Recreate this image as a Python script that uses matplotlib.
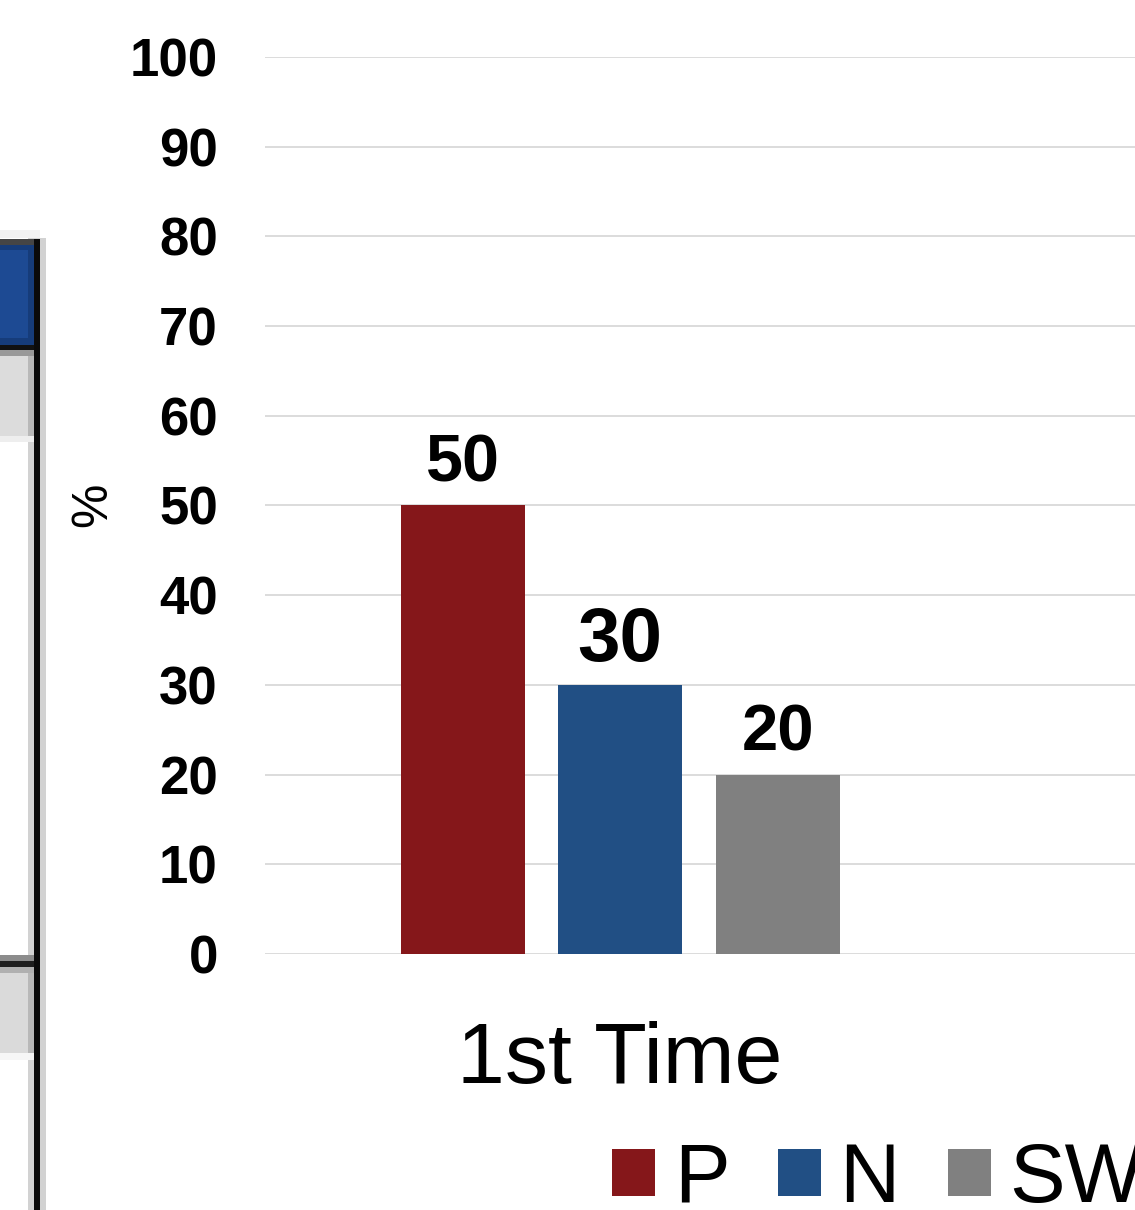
import matplotlib
matplotlib.use("Agg")
import matplotlib.pyplot as plt
from matplotlib.patches import Rectangle
import numpy as np

plt.rcParams['font.family'] = ['Liberation Sans', 'DejaVu Sans']

# data
categories = ["1st Time"]
series = ["P", "N", "SW"]
values = [[50], [30], [20]]
colors = ["#85171a", "#214f84", "#808080"]
yticks = [0, 10, 20, 30, 40, 50, 60, 70, 80, 90, 100]
label_sizes = [48, 55, 47]

W, H = 1135, 1210
fig = plt.figure(figsize=(W / 100, H / 100), dpi=100)

def px(x0, y0, x1, y1):
    # pixel box (top-left origin) -> figure fraction rect
    return (x0 / W, 1 - y1 / H), (x1 - x0) / W, (y1 - y0) / H

def box(x0, y0, x1, y1, c):
    xy, w, h = px(x0, y0, x1, y1)
    fig.add_artist(Rectangle(xy, w, h, transform=fig.transFigure,
                             facecolor=c, edgecolor="none", zorder=0))

# piece of the neighbouring table at the left edge
box(0, 230, 40, 238, "#f2f2f2")
box(28, 238, 46, H, "#d2d2d2")
box(0, 239, 34, 245, "#454545")
box(0, 245, 34, 345, "#163c7a")
box(0, 250, 28, 338, "#1d4a93")
box(0, 345, 34, 350, "#111111")
box(0, 350, 34, 356, "#999999")
box(0, 356, 28, 436, "#dcdcdc")
box(28, 356, 34, 436, "#b8b8b8")
box(0, 436, 34, 442, "#eeeeee")
box(0, 955, 34, 961, "#8c8c8c")
box(0, 961, 34, 967, "#1e1e1e")
box(0, 967, 34, 973, "#b0b0b0")
box(0, 973, 28, 1053, "#dadada")
box(28, 973, 34, 1053, "#b8b8b8")
box(0, 1053, 34, 1060, "#f6f6f6")
box(34, 239, 40, H, "#0a0a0a")

# chart
ax = fig.add_axes([265 / W, 1 - 954 / H, 1 - 265 / W, (954 - 57) / H])
x = np.arange(len(categories))
bw = 0.1746
step = 0.2218
bars = []
for i, (name, vals, c) in enumerate(zip(series, values, colors)):
    pos = x + (i - 1) * step
    b = ax.bar(pos, vals, bw, color=c, label=name, zorder=2)
    bars.append(b)
    for xp, v in zip(pos, vals):
        ax.annotate("%d" % v, (xp, v), xytext=(0, 17), textcoords="offset points",
                    ha="center", va="baseline", fontsize=label_sizes[i],
                    fontweight="bold")

ax.set_xlim(-0.5, 0.725)
ax.set_ylim(0, 100)
ax.set_yticks(yticks)
ax.set_yticklabels([str(t) for t in yticks], fontsize=38, fontweight="bold")
ax.set_xticks(x)
ax.set_xticklabels(categories, fontsize=62)
ax.tick_params(axis="y", length=0, pad=34)
ax.tick_params(axis="x", length=0, pad=48)
ax.grid(axis="y", color="#d9d9d9", linewidth=1.3, zorder=0)
ax.set_axisbelow(True)
for s in ax.spines.values():
    s.set_visible(False)

fig.text(93 / W, 1 - 505 / H, "%", rotation=90, fontsize=36,
         ha="center", va="center")

fig.legend(handles=bars, labels=series, loc="center left",
           bbox_to_anchor=(612 / W, 1 - 1180 / H), ncol=3, frameon=False,
           fontsize=60, handlelength=0.52, handleheight=0.48,
           handletextpad=0.22, columnspacing=0.58, borderpad=0,
           borderaxespad=0)

fig.savefig("out.png", dpi=100)
